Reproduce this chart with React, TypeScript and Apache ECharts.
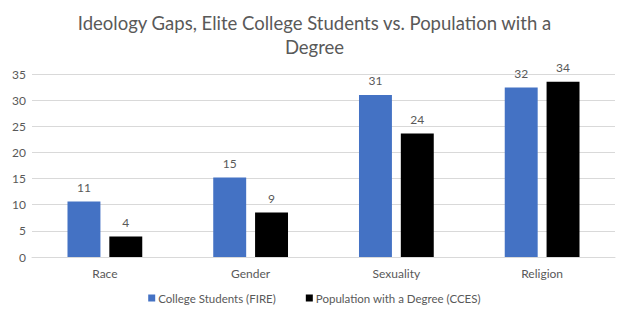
import React, { useEffect, useRef } from "react";
import * as echarts from "echarts";

const categories = ["Race", "Gender", "Sexuality", "Religion"];
const collegeStudents = [10.6, 15.2, 31.0, 32.4];
const populationDegree = [3.9, 8.5, 23.6, 33.5];
const seriesNames = ["College Students (FIRE)", "Population with a Degree (CCES)"];
const yTicks = { min: 0, max: 35, interval: 5 };

const FONT = "Lato, 'Open Sans', sans-serif";
const GRAY = "#595959";

export default function App() {
  const ref = useRef<HTMLDivElement>(null);
  useEffect(() => {
    if (!ref.current) return;
    const chart = echarts.init(ref.current, undefined, { renderer: "svg" });
    const label = {
      show: true,
      position: "top",
      distance: 8,
      color: GRAY,
      fontFamily: FONT,
      fontSize: 12,
      formatter: (p: any) => String(Math.round(p.value)),
    };
    chart.setOption({
      animation: false,
      backgroundColor: "#ffffff",
      title: {
        text: "Ideology Gaps, Elite College Students vs. Population with a\nDegree",
        left: "center",
        top: 6,
        textStyle: {
          color: GRAY,
          fontFamily: FONT,
          fontSize: 18.5,
          fontWeight: "normal",
          lineHeight: 24,
        },
      },
      legend: {
        bottom: 13,
        left: "center",
        itemWidth: 7,
        itemHeight: 7,
        itemGap: 30,
        icon: "rect",
        textStyle: { color: GRAY, fontFamily: FONT, fontSize: 11.5, padding: [0, 0, 0, -2] },
        data: seriesNames,
      },
      grid: { left: 32, right: 14, top: 74, bottom: 65, containLabel: false },
      xAxis: {
        type: "category",
        data: categories,
        axisLine: { lineStyle: { color: "#d9d9d9" } },
        axisTick: { show: false },
        axisLabel: { color: GRAY, fontFamily: FONT, fontSize: 12, margin: 10 },
      },
      yAxis: {
        type: "value",
        min: yTicks.min,
        max: yTicks.max,
        interval: yTicks.interval,
        axisLine: { show: false },
        axisTick: { show: false },
        axisLabel: { color: GRAY, fontFamily: FONT, fontSize: 12, margin: 6 },
        splitLine: { lineStyle: { color: "#d9d9d9" } },
      },
      series: [
        {
          name: seriesNames[0],
          type: "bar",
          data: collegeStudents,
          itemStyle: { color: "#4472C4" },
          barWidth: "22.6%",
          barGap: "27%",
          label,
        },
        {
          name: seriesNames[1],
          type: "bar",
          data: populationDegree,
          itemStyle: { color: "#000000" },
          barWidth: "22.6%",
          label,
        },
      ],
    });
    return () => chart.dispose();
  }, []);
  return <div ref={ref} style={{ width: 629, height: 322, margin: -8 }} />;
}
